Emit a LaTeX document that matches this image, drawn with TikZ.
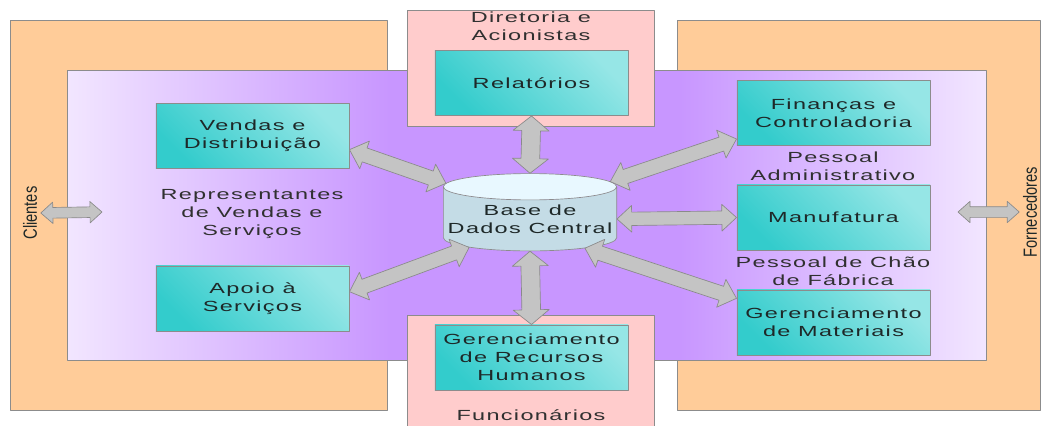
\documentclass[tikz,border=0pt]{standalone}
\usepackage{fontspec}
\setmainfont[FakeStretch=1.6,LetterSpace=9]{Liberation Sans}
\newfontfamily\rotfont{Liberation Sans}
\usetikzlibrary{calc,shapes.geometric}
\definecolor{laranja}{HTML}{FFCC99}
\definecolor{rosa}{HTML}{FFCCCC}
\definecolor{lilasC}{HTML}{F2E6FF}
\definecolor{lilasE}{HTML}{C896FF}
\definecolor{tealE}{HTML}{33CCCC}
\definecolor{tealC}{HTML}{96E6E6}
\definecolor{dbcorpo}{HTML}{C4DCE6}
\definecolor{dbtopo}{HTML}{E8F8FF}
\definecolor{setacinza}{HTML}{C4C4C4}
\definecolor{setaborda}{HTML}{8A8A8A}
\definecolor{linha}{HTML}{8C8C8C}
\definecolor{texto}{HTML}{1E2828}
\definecolor{cinza}{HTML}{303030}
\tikzset{
  borda/.style={draw=linha, line width=.5pt},
  caixa/.style={borda, minimum width=145pt, minimum height=49pt, inner sep=0pt, align=center,
    top color=tealC, bottom color=tealE, shading angle=-45, text=texto},
  rotulo/.style={align=center, text=cinza},
  vertical/.style={rotate=90, yscale=1.3, inner sep=2pt, text=texto, font=\rotfont\fontsize{11}{13}\selectfont},
  seta/.style n args={3}{fill=setacinza, draw=setaborda, line width=.5pt, to path={
    (\tikztostart)
    -- ($(\tikztostart)!#3!(\tikztotarget)!#2!90:(\tikztotarget)$)
    -- ($(\tikztostart)!#3!(\tikztotarget)!#1!90:(\tikztotarget)$)
    -- ($(\tikztotarget)!#3!(\tikztostart)!#1!-90:(\tikztostart)$)
    -- ($(\tikztotarget)!#3!(\tikztostart)!#2!-90:(\tikztostart)$)
    -- (\tikztotarget)
    -- ($(\tikztotarget)!#3!(\tikztostart)!#2!90:(\tikztostart)$)
    -- ($(\tikztotarget)!#3!(\tikztostart)!#1!90:(\tikztostart)$)
    -- ($(\tikztostart)!#3!(\tikztotarget)!#1!-90:(\tikztotarget)$)
    -- ($(\tikztostart)!#3!(\tikztotarget)!#2!-90:(\tikztotarget)$)
    -- cycle}},
}
\begin{document}
\begin{tikzpicture}[x=0.75pt, y=-0.75pt, font=\fontsize{11}{13.5}\selectfont, line join=round]
\useasboundingbox (0,0) rectangle (1042,425);
\clip (0,0) rectangle (1042,425);
% fundos
\draw[borda, fill=laranja] (10,20) rectangle (387,410);
\draw[borda, fill=laranja] (677,20) rectangle (1040,410);
\fill[left color=lilasC, right color=lilasE] (67,70) rectangle (390,360);
\fill[lilasE] (389,70) rectangle (681,360);
\fill[left color=lilasE, right color=lilasC] (680,70) rectangle (986,360);
\draw[borda] (67,70) rectangle (986,360);
\draw[borda, fill=rosa] (407,10) rectangle (654,126);
\draw[borda, fill=rosa] (407,315) rectangle (654,440);
% caixas
\node[caixa] (vendas) at (252.5,136) {Vendas e\\Distribuição};
\node[caixa] (apoio) at (252.5,298.5) {Apoio à\\Serviços};
\node[caixa] (relatorios) at (531.5,83) {Relatórios};
\node[caixa] (financas) at (833.5,113) {Finanças e\\Controladoria};
\node[caixa] (manufatura) at (833.5,217.5) {Manufatura};
\node[caixa] (materiais) at (833.5,322.5) {Gerenciamento\\de Materiais};
\node[caixa] (rh) at (531.5,357.5) {Gerenciamento\\de Recursos\\Humanos};
\node[cylinder, shape border rotate=90, aspect=.16, borda, cylinder uses custom fill,
  cylinder body fill=dbcorpo, cylinder end fill=dbtopo, minimum width=130pt, minimum height=58pt,
  inner sep=0pt, align=center, text=texto] (db) at (530,219) {Base de\\Dados Central};
% rotulos
\node[rotulo] (diretoria) at (531,26) {Diretoria e\\Acionistas};
\node[rotulo] (representantes) at (252,214) {Representantes\\de Vendas e\\Serviços};
\node[rotulo] (administrativo) at (833,166) {Pessoal\\Administrativo};
\node[rotulo] (fabrica) at (833,271) {Pessoal de Chão\\de Fábrica};
\node[rotulo] (funcionarios) at (531,415) {Funcionários};
\node[vertical] (clientes) at (30,213) {Clientes};
\node[vertical] (fornecedores) at (1030,212) {Fornecedores};
\coordinate (cliseta) at (102,212);
\coordinate (forseta) at (958,212);
% setas
\draw[seta={4pt}{8pt}{9pt}] (clientes.south) to (cliseta);
\draw[seta={4pt}{8pt}{9pt}] (forseta) to (fornecedores.north);
\draw[seta={7pt}{13.5pt}{11pt}] (relatorios.south) to (db.90);
\draw[seta={7pt}{13.5pt}{11pt}] (db.270) to (rh.north);
\draw[seta={5pt}{10pt}{11pt}] (manufatura.west) to (db.0);
\foreach \a/\b in {vendas.-8/db.157, apoio.4/db.205, financas.195/db.25, materiais.166/db.-28}
  \draw[seta={5.5pt}{11pt}{12pt}] (\a) to (\b);
\end{tikzpicture}
\end{document}
